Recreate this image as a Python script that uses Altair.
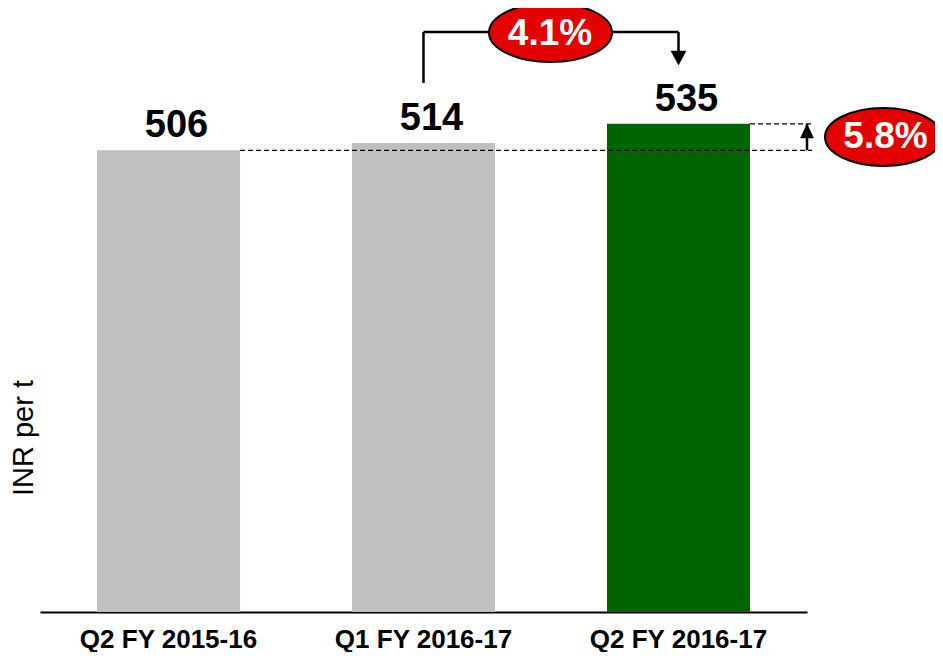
import altair as alt
import pandas as pd

categories = ["Q2 FY 2015-16", "Q1 FY 2016-17", "Q2 FY 2016-17"]
values = [506, 514, 535]
change_labels = ["4.1%", "5.8%"]
y_title = "INR per t"

df = pd.DataFrame({"period": categories, "value": values})

W, H = 767, 604
YMAX = 662
FONT = "Liberation Sans"
RED = "#E30000"

x_enc = alt.X(
    "period:N",
    sort=categories,
    scale=alt.Scale(paddingInner=0.439, paddingOuter=0.2235),
    axis=alt.Axis(
        title=None, labelAngle=0, ticks=False, tickSize=0, grid=False,
        domainColor="black", domainWidth=2,
        labelFont=FONT, labelFontWeight="bold", labelFontSize=26, labelColor="black",
        labelPadding=35, labelBaseline="alphabetic",
    ),
)
y_enc = alt.Y("value:Q", scale=alt.Scale(domain=[0, YMAX], nice=False, zero=True), axis=None)

base = alt.Chart(df)

bars = base.mark_bar().encode(
    x=x_enc,
    y=y_enc,
    color=alt.Color(
        "period:N",
        scale=alt.Scale(domain=categories, range=["#C0C0C0", "#C0C0C0", "#006400"]),
        legend=None,
    ),
)

labels = base.mark_text(
    font=FONT, fontWeight="bold", fontSize=38, baseline="alphabetic",
    dy=-13, dx=8, color="black",
).encode(x=x_enc, y=y_enc, text="value:Q")

one = pd.DataFrame({"a": [0]})

# dashed reference lines at first and last bar values
low_df = pd.DataFrame({"value": [values[0]]})
high_df = pd.DataFrame({"value": [values[2]]})
dash_low = alt.Chart(low_df).mark_rule(color="black", strokeWidth=1.4, strokeDash=[5, 3]).encode(
    x=alt.value(200), x2=alt.value(772), y=y_enc
)
dash_high = alt.Chart(high_df).mark_rule(color="black", strokeWidth=1.4, strokeDash=[5, 3]).encode(
    x=alt.value(710), x2=alt.value(772), y=y_enc
)
shaft_df = pd.DataFrame({"value": [values[0]], "value2": [values[2]]})
shaft = alt.Chart(shaft_df).mark_rule(color="black", strokeWidth=2.5).encode(
    x=alt.value(767), y=y_enc, y2="value2:Q"
)


def seg(x1, y1, x2, y2):
    return alt.Chart(one).mark_rule(color="black", strokeWidth=2.5).encode(
        x=alt.value(x1), y=alt.value(y1), x2=alt.value(x2), y2=alt.value(y2)
    )


bracket = [
    seg(383.5, 75, 383.5, 24),
    seg(383.5, 24, 450, 24),
    seg(572, 24, 638.5, 24),
    seg(638.5, 24, 638.5, 45),
]

up_tri = "M -0.93 1 L 0.93 1 L 0 -1 Z"
down_tri = "M -1 -0.93 L 1 -0.93 L 0 0.93 Z"
head_up = alt.Chart(one).mark_point(
    shape=up_tri, size=196, fill="black", stroke="black", strokeWidth=0.5, fillOpacity=1, opacity=1
).encode(x=alt.value(767), y=alt.value(123))
head_down = alt.Chart(one).mark_point(
    shape=down_tri, size=225, fill="black", stroke="black", strokeWidth=0.5, fillOpacity=1, opacity=1
).encode(x=alt.value(638.5), y=alt.value(50))


def ellipse_path(r):
    k = 0.5523
    return (
        f"M -1 0 C -1 {-k*r:.4f} {-k:.4f} {-r:.4f} 0 {-r:.4f} "
        f"C {k:.4f} {-r:.4f} 1 {-k*r:.4f} 1 0 "
        f"C 1 {k*r:.4f} {k:.4f} {r:.4f} 0 {r:.4f} "
        f"C {-k:.4f} {r:.4f} -1 {k*r:.4f} -1 0 Z"
    )


def oval(cx, cy, rx, ry):
    return alt.Chart(one).mark_point(
        shape=ellipse_path(ry / rx), size=(2 * rx) ** 2, fill=RED, stroke="black",
        strokeWidth=2, fillOpacity=1, strokeOpacity=1, opacity=1,
    ).encode(x=alt.value(cx), y=alt.value(cy))


def oval_text(label, cx, by):
    return alt.Chart(pd.DataFrame({"t": [label]})).mark_text(
        font=FONT, fontWeight="bold", fontSize=37, color="white",
        align="center", baseline="alphabetic",
    ).encode(x=alt.value(cx), y=alt.value(by), text="t:N")


oval1 = oval(510.5, 24.5, 61.5, 29.5)
oval2 = oval(843.5, 129, 58.5, 29)
txt1 = oval_text(change_labels[0], 510, 37)
txt2 = oval_text(change_labels[1], 845.5, 140)

ytitle = alt.Chart(pd.DataFrame({"t": [y_title]})).mark_text(
    font=FONT, fontSize=29, color="black", angle=270, align="center", baseline="alphabetic"
).encode(x=alt.value(-7), y=alt.value(430), text="t:N")

chart = alt.layer(
    bars, dash_low, dash_high, shaft, head_up, labels,
    *bracket, head_down, oval1, oval2, txt1, txt2, ytitle,
).properties(
    width=W, height=H,
    autosize=alt.AutoSizeParams(type="none"),
    padding={"left": 32, "top": 0, "right": 128, "bottom": 40},
).configure_view(stroke=None)

chart.save("out.html", embed_options={"renderer": "svg", "actions": False})
